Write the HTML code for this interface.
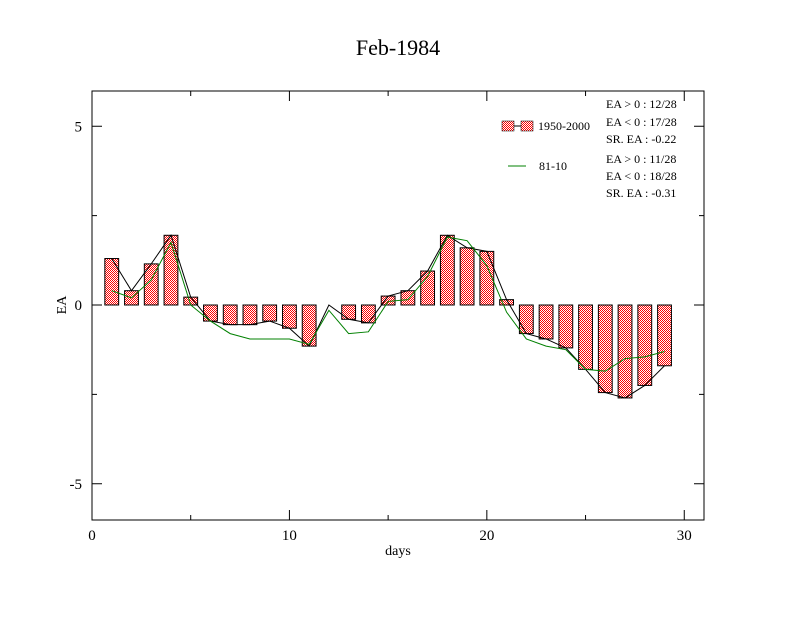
<!DOCTYPE html>
<html><head><meta charset="utf-8"><style>
body{margin:0;background:#fff}
svg{font-family:"Liberation Serif",serif}
</style></head><body>
<svg id="chart" width="792" height="612" xmlns="http://www.w3.org/2000/svg">
<defs>
<pattern id="hatch" width="2" height="2" patternUnits="userSpaceOnUse">
<rect width="2" height="2" fill="#fff"/><rect width="1" height="1" fill="#f00"/><rect x="1" y="1" width="1" height="1" fill="#f00"/>
</pattern>
</defs>
<text x="398" y="55" font-size="22" text-anchor="middle">Feb-1984</text>
<rect x="92" y="91" width="612" height="429" fill="none" stroke="#000" stroke-width="1"/>
<g id="ticks"></g>
<g id="bars"></g>
<g id="lines"></g>
<text x="398" y="555" font-size="14" text-anchor="middle">days</text>
<text x="66" y="305" font-size="14" text-anchor="middle" transform="rotate(-90 66 305)">EA</text>
<g font-size="12">
<rect x="502" y="121" width="12" height="10" fill="url(#hatch)" stroke="#000" stroke-width="0.5"/>
<line x1="514" y1="126" x2="521" y2="126" stroke="#000"/>
<rect x="521" y="121" width="12" height="10" fill="url(#hatch)" stroke="#000" stroke-width="0.5"/>
<text x="538" y="130">1950-2000</text>
<text x="606" y="108">EA &gt; 0 : 12/28</text>
<text x="606" y="126">EA &lt; 0 : 17/28</text>
<text x="606" y="143">SR. EA : -0.22</text>
<line x1="508" y1="166" x2="526" y2="166" stroke="#008000"/>
<text x="539" y="170">81-10</text>
<text x="606" y="163">EA &gt; 0 : 11/28</text>
<text x="606" y="180">EA &lt; 0 : 18/28</text>
<text x="606" y="197">SR. EA : -0.31</text>
</g>
</svg>
<script>
const days=[1,2,3,4,5,6,7,8,9,10,11,12,13,14,15,16,17,18,19,20,21,22,23,24,25,26,27,28,29];
const ea1950=[1.3,0.4,1.15,1.95,0.22,-0.45,-0.55,-0.55,-0.45,-0.65,-1.15,0,-0.4,-0.5,0.25,0.4,0.95,1.95,1.6,1.5,0.15,-0.8,-0.95,-1.2,-1.8,-2.45,-2.6,-2.25,-1.7];
const ea8110=[0.4,0.2,0.7,1.75,0.0,-0.45,-0.8,-0.95,-0.95,-0.95,-1.1,-0.15,-0.8,-0.75,0.1,0.15,0.8,1.9,1.8,1.1,-0.2,-0.95,-1.15,-1.25,-1.8,-1.85,-1.5,-1.45,-1.3];
const xTicks=[0,10,20,30];
const yTicks=[5,0,-5];
const NS="http://www.w3.org/2000/svg";
const X=v=>92+(v/31)*612;
const Y=v=>305-v*35.75;
function mk(t,a,p){const e=document.createElementNS(NS,t);for(const k in a)e.setAttribute(k,a[k]);p.appendChild(e);return e;}
const tg=document.getElementById('ticks');
for(let v=0;v<=30;v+=5){const big=v%10===0;mk('line',{x1:X(v),x2:X(v),y1:520,y2:520-(big?10:5),stroke:'#000'},tg);mk('line',{x1:X(v),x2:X(v),y1:91,y2:91+(big?10:5),stroke:'#000'},tg);}
for(let v=-5;v<=5;v+=2.5){const big=v%5===0;mk('line',{x1:92,x2:92+(big?10:5),y1:Y(v),y2:Y(v),stroke:'#000'},tg);mk('line',{x1:704,x2:704-(big?10:5),y1:Y(v),y2:Y(v),stroke:'#000'},tg);}
xTicks.forEach(v=>{const t=mk('text',{x:X(v),y:540,'font-size':15,'text-anchor':'middle'},tg);t.textContent=v;

});
yTicks.forEach(v=>{const t=mk('text',{x:82,y:Y(v)+5,'font-size':15,'text-anchor':'end'},tg);t.textContent=v;

});
const bg=document.getElementById('bars');
const bw=0.7*612/31;
days.forEach((d,i)=>{const v=ea1950[i];const y0=Y(Math.max(v,0)),h=Math.abs(Y(v)-Y(0));
const r=mk('rect',{x:X(d)-bw/2,y:y0,width:bw,height:h,fill:'url(#hatch)',stroke:'#000','stroke-width':1},bg);

});
const lg=document.getElementById('lines');
const l1=mk('polyline',{points:days.map((d,i)=>X(d)+','+Y(ea1950[i])).join(' '),fill:'none',stroke:'#000'},lg);


const l2=mk('polyline',{points:days.map((d,i)=>X(d)+','+Y(ea8110[i])).join(' '),fill:'none',stroke:'#008000'},lg);


</script>
</body></html>
